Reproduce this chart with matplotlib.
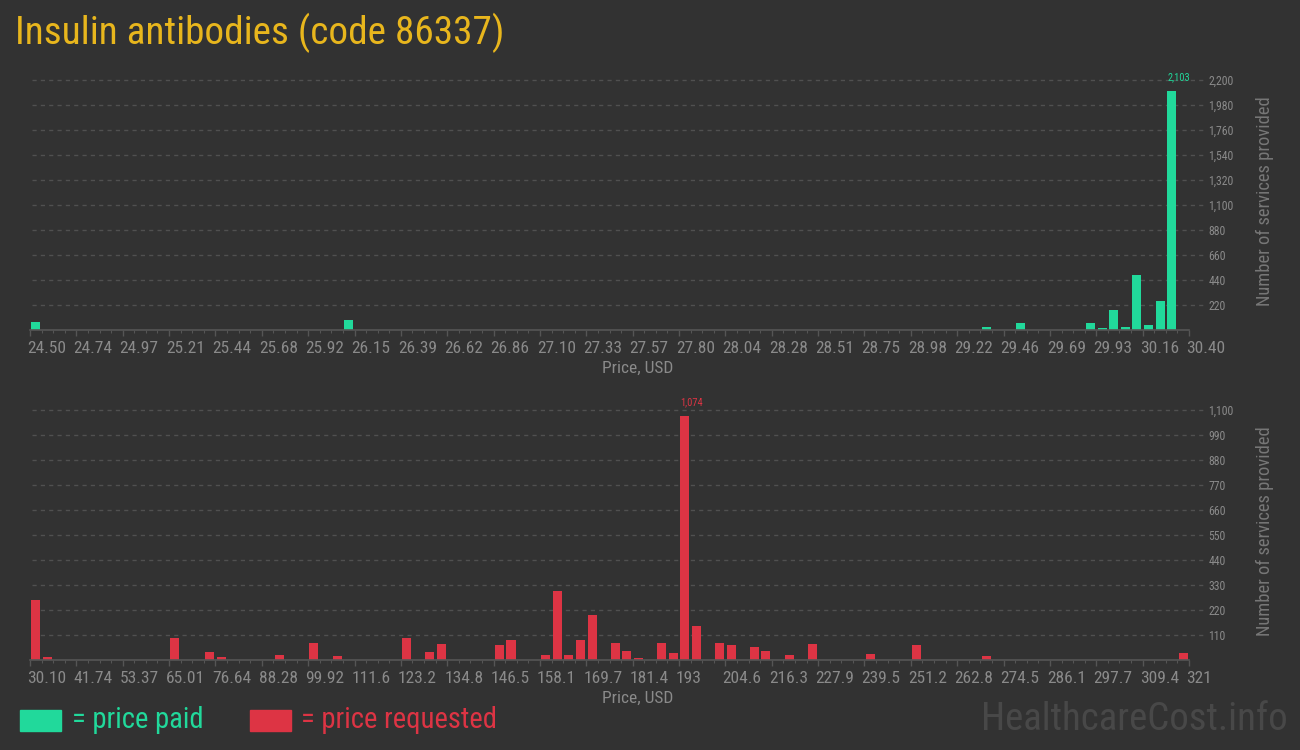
import matplotlib
matplotlib.use("Agg")
import matplotlib.pyplot as plt
import matplotlib.transforms as mtransforms
import matplotlib.font_manager as fm
import numpy as np

# ---------------- data ----------------
title = "Insulin antibodies (code 86337)"

paid_range = (24.50, 30.40)
paid_bins = [0, 27, 82, 85, 91, 92, 93, 94, 95, 96, 97, 98]
paid_counts = [70, 92, 22, 65, 65, 14, 180, 22, 485, 40, 258, 2103]
paid_xticklabels = ["24.50", "24.74", "24.97", "25.21", "25.44", "25.68", "25.92",
                    "26.15", "26.39", "26.62", "26.86", "27.10", "27.33", "27.57",
                    "27.80", "28.04", "28.28", "28.51", "28.75", "28.98", "29.22",
                    "29.46", "29.69", "29.93", "30.16", "30.40"]
paid_yticks = [220, 440, 660, 880, 1100, 1320, 1540, 1760, 1980, 2200]
paid_ymax = 2200

req_range = (30.10, 321.0)
req_bins = [0, 1, 12, 15, 16, 21, 24, 26, 32, 34, 35, 40, 41, 44, 45, 46, 47, 48,
            50, 51, 52, 54, 55, 56, 57, 59, 60, 62, 63, 65, 67, 72, 76, 82, 99]
req_counts = [262, 12, 95, 34, 12, 20, 73, 16, 95, 34, 69, 64, 86, 24, 302, 20, 90, 200,
              73, 38, 11, 77, 33, 1074, 148, 77, 68, 56, 38, 20, 69, 25, 64, 16, 29]
req_xticklabels = ["30.10", "41.74", "53.37", "65.01", "76.64", "88.28", "99.92",
                   "111.6", "123.2", "134.8", "146.5", "158.1", "169.7", "181.4",
                   "193", "204.6", "216.3", "227.9", "239.5", "251.2", "262.8",
                   "274.5", "286.1", "297.7", "309.4", "321"]
req_yticks = [110, 220, 330, 440, 550, 660, 770, 880, 990, 1100]
req_ymax = 1100

n_bins = 100


# ---------------- font selection (prefer a condensed face) ----------------
def find_condensed():
    prefs = ["robotocondensed", "liberationsansnarrow", "opensanscondensed",
             "notosanscondensed", "dejavusanscondensed"]
    cands = []
    for f in fm.fontManager.ttflist:
        fn = f.fname.lower().replace("-", "").replace("_", "").replace(" ", "")
        base = fn.rsplit("/", 1)[-1]
        if any(k in base for k in ("bold", "italic", "light", "thin", "black",
                                   "medium", "oblique", "semi", "extra")):
            continue
        if ("condensed" in base or "narrow" in base or
                f.stretch in ("condensed", "semi-condensed")):
            rank = len(prefs)
            for i, p in enumerate(prefs):
                if p in base:
                    rank = i
                    break
            cands.append((rank, f.fname))
    if cands:
        cands.sort()
        return cands[0][1]
    return None


cpath = find_condensed()


def F(size):
    if cpath:
        return fm.FontProperties(fname=cpath, size=size)
    return fm.FontProperties(family="Roboto", size=size * 0.85)


# ---------------- style ----------------
BG = "#323232"
GREEN = "#21d99b"
RED = "#dd3444"
GOLD = "#e8b61d"
TICKC = "#8a8a8a"
AXC = "#555555"
GRIDC = "#505050"

fig = plt.figure(figsize=(13, 7.5), dpi=100)
fig.patch.set_facecolor(BG)


def draw(ax, rng, bins, counts, xlabels, yticks, ymax, color):
    lo, hi = rng
    w = (hi - lo) / n_bins
    centers = [lo + (b + 0.5) * w for b in bins]
    ax.set_facecolor(BG)
    ax.bar(centers, counts, width=w * 0.78, color=color, zorder=3)
    ax.set_xlim(lo, hi)
    ax.set_ylim(0, ymax)
    for s in ['top', 'left', 'right']:
        ax.spines[s].set_visible(False)
    ax.spines['bottom'].set_color(AXC)
    ax.spines['bottom'].set_linewidth(1.2)
    ax.spines['bottom'].set_zorder(4)
    # gridlines
    trans = mtransforms.blended_transform_factory(ax.transAxes, ax.transData)
    for yv in yticks:
        ax.plot([0.002, 1.012], [yv, yv], transform=trans, color=GRIDC,
                lw=1.0, ls=(0, (3, 3)), clip_on=False, zorder=1)
    # x ticks
    xt = np.linspace(lo, hi, len(xlabels))
    ax.set_xticks(xt)
    ax.set_xticklabels(xlabels, fontproperties=F(12.5))
    ax.set_xticks(np.linspace(lo, hi, n_bins + 1), minor=True)
    ax.tick_params(axis='x', which='major', length=4, width=1, color=AXC,
                   labelcolor=TICKC, pad=4)
    ax.tick_params(axis='x', which='minor', length=2, width=0.8, color=AXC)
    offset = mtransforms.ScaledTranslation(-3 / 100, 0, fig.dpi_scale_trans)
    for lab in ax.get_xticklabels():
        lab.set_horizontalalignment('left')
        lab.set_transform(lab.get_transform() + offset)
    # y ticks on right
    ax.yaxis.tick_right()
    ax.set_yticks(yticks)
    ax.set_yticklabels([f"{v:,}" for v in yticks], fontproperties=F(8.5))
    ax.tick_params(axis='y', length=0, pad=14, labelcolor=TICKC)
    ax.text((1265 - 30) / 1159, 0.516, "Number of services provided",
            transform=ax.transAxes, rotation=90, ha='center', va='center',
            color="#777777", fontproperties=F(13.3))
    ax.text(0.524, -0.155, "Price, USD", transform=ax.transAxes, ha='center',
            va='center', color=TICKC, fontproperties=F(12.5))
    # annotate the maximum bar
    i = int(np.argmax(counts))
    ax.annotate(f"{counts[i]:,}", xy=(centers[i] - w * 0.39, counts[i]),
                xytext=(0, 6), textcoords='offset points', ha='left', va='bottom',
                color=color, fontproperties=F(7.5), zorder=5, annotation_clip=False)


ax1 = fig.add_axes([30 / 1300, 1 - 330 / 750, 1159 / 1300, 250 / 750])
draw(ax1, paid_range, paid_bins, paid_counts, paid_xticklabels, paid_yticks,
     paid_ymax, GREEN)
ax2 = fig.add_axes([30 / 1300, 1 - 660 / 750, 1159 / 1300, 250 / 750])
draw(ax2, req_range, req_bins, req_counts, req_xticklabels, req_yticks,
     req_ymax, RED)

# title
fig.text(15 / 1300, 1 - 33 / 750, title, color=GOLD, fontproperties=F(28.3),
         ha='left', va='center')

# legend
fig.patches.append(plt.Rectangle((20 / 1300, 1 - 731 / 750), 41 / 1300, 21 / 750,
                                 transform=fig.transFigure, color=GREEN))
fig.text(72 / 1300, 1 - 720 / 750, "= price paid", color=GREEN,
         fontproperties=F(20.6), ha='left', va='center')
fig.patches.append(plt.Rectangle((250 / 1300, 1 - 731 / 750), 41 / 1300, 21 / 750,
                                 transform=fig.transFigure, color=RED))
fig.text(301 / 1300, 1 - 720 / 750, "= price requested", color=RED,
         fontproperties=F(20.6), ha='left', va='center')

# watermark
fig.text(1288 / 1300, 1 - 720 / 750, "HealthcareCost.info", color="#484848",
         fontproperties=F(28), ha='right', va='center')

fig.savefig("out.png", dpi=100, facecolor=BG)
